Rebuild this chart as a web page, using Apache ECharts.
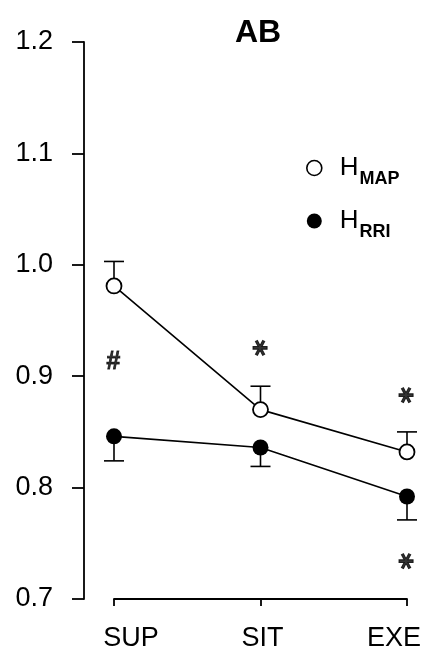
<!DOCTYPE html>
<html>
<head>
<meta charset="utf-8">
<script src="https://cdn.jsdelivr.net/npm/echarts@6/dist/echarts.min.js"></script>
<style>
  html, body { margin: 0; padding: 0; background: #fff; }
  #chart { width: 422px; height: 650px; }
</style>
</head>
<body>
<div id="chart"></div>
<script>
// conditions on the x axis
const categories = ['SUP', 'SIT', 'EXE'];

// H_MAP (open circles), error bars go up
const hMap = [0.981, 0.870, 0.832];
const hMapSE = [0.022, 0.021, 0.018];

// H_RRI (filled circles), error bars go down
const hRri = [0.846, 0.836, 0.792];
const hRriSE = [0.022, 0.017, 0.021];

// y ticks
const yMin = 0.7;
const yMax = 1.2;
const yStep = 0.1;

// significance marks
const markX = [0, 1, 2, 2];
const markY = [0.9145, 0.9255, 0.883, 0.734];
const markText = ['#', '*', '*', '*'];

const FONT = '"Liberation Sans", Arial, sans-serif';

function errorSeries(vals, se, dir) {
    return {
        type: 'custom',
        xAxisIndex: 1,
        yAxisIndex: 1,
        z: 1,
        silent: true,
        data: vals.map((v, i) => [i, v, se[i]]),
        renderItem: function (params, api) {
            const p0 = api.coord([api.value(0), api.value(1)]);
            const p1 = api.coord([api.value(0), api.value(1) + dir * api.value(2)]);
            const st = { stroke: '#000', lineWidth: 1.6 };
            return {
                type: 'group',
                children: [
                    { type: 'line', shape: { x1: p0[0], y1: p0[1], x2: p1[0], y2: p1[1] }, style: st },
                    { type: 'line', shape: { x1: p1[0] - 10, y1: p1[1], x2: p1[0] + 10, y2: p1[1] }, style: st }
                ]
            };
        }
    };
}

const legendRich = {
    h: { fontSize: 26, fontFamily: FONT, color: '#000', lineHeight: 26, verticalAlign: 'top', padding: [0, 0, 0, 13] },
    s: { fontSize: 18, fontFamily: FONT, fontWeight: 'bold', color: '#000', lineHeight: 18, verticalAlign: 'top', padding: [15, 0, 0, 1] }
};

const xRich = {
    l: { fontFamily: FONT, fontSize: 27, color: '#000', padding: [0, 0, 0, 34] },
    c: { fontFamily: FONT, fontSize: 27, color: '#000', padding: [0, 0, 0, 4] },
    r: { fontFamily: FONT, fontSize: 27, color: '#000', padding: [0, 26, 0, 0] }
};

const chart = echarts.init(document.getElementById('chart'), null, { renderer: 'canvas' });

chart.setOption({
    animation: false,
    backgroundColor: '#fff',
    title: {
        text: 'AB',
        left: 258,
        top: 17,
        padding: 0,
        textAlign: 'center',
        textStyle: { fontFamily: FONT, fontSize: 32, fontWeight: 'bold', color: '#000' }
    },
    legend: {
        orient: 'vertical',
        left: 306,
        top: 155,
        padding: 0,
        itemGap: 20,
        itemWidth: 15,
        itemHeight: 15,
        selectedMode: false,
        data: [
            { name: 'HMAP', icon: 'circle', itemStyle: { color: '#fff', borderColor: '#000', borderWidth: 1.6 } },
            { name: 'HRRI', icon: 'circle', itemStyle: { color: '#000', borderColor: '#000', borderWidth: 0 } }
        ],
        formatter: function (name) {
            return '{h|H}{s|' + name.slice(1) + '}';
        },
        textStyle: { rich: legendRich }
    },
    grid: [
        { left: 84, top: 42, bottom: 51, right: 15, outerBoundsMode: 'none' },
        { left: 114, top: 42, bottom: 51, right: 15, outerBoundsMode: 'none' }
    ],
    xAxis: [
        { gridIndex: 0, type: 'value', show: false, min: 0, max: 1 },
        {
            gridIndex: 1,
            type: 'category',
            data: categories,
            boundaryGap: false,
            axisLine: { lineStyle: { color: '#000', width: 1.8 } },
            axisTick: { alignWithLabel: true, length: 7, lineStyle: { color: '#000', width: 1.8 } },
            axisLabel: {
                margin: 26, color: '#000', fontFamily: FONT, fontSize: 27,
                formatter: (v, i) => '{' + ['l', 'c', 'r'][i] + '|' + v + '}',
                rich: xRich
            },
            splitLine: { show: false }
        }
    ],
    yAxis: [
        {
            gridIndex: 0,
            type: 'value',
            min: yMin,
            max: yMax,
            interval: yStep,
            axisLine: { show: true, lineStyle: { color: '#000', width: 1.8 } },
            axisTick: { show: true, length: 12, lineStyle: { color: '#000', width: 1.8 } },
            axisLabel: {
                margin: 31, color: '#000', fontFamily: FONT, fontSize: 27,
                formatter: v => v.toFixed(1)
            },
            splitLine: { show: false }
        },
        { gridIndex: 1, type: 'value', min: yMin, max: yMax, show: false }
    ],
    series: [
        errorSeries(hMap, hMapSE, 1),
        errorSeries(hRri, hRriSE, -1),
        {
            name: 'HMAP',
            type: 'line',
            xAxisIndex: 1,
            yAxisIndex: 1,
            z: 3,
            data: hMap,
            symbol: 'circle',
            symbolSize: 15,
            lineStyle: { color: '#000', width: 1.6 },
            itemStyle: { color: '#fff', borderColor: '#000', borderWidth: 1.8 }
        },
        {
            name: 'HRRI',
            type: 'line',
            xAxisIndex: 1,
            yAxisIndex: 1,
            z: 3,
            data: hRri,
            symbol: 'circle',
            symbolSize: 16,
            lineStyle: { color: '#000', width: 1.6 },
            itemStyle: { color: '#000', borderColor: '#000', borderWidth: 0 }
        },
        {
            type: 'scatter',
            xAxisIndex: 1,
            yAxisIndex: 1,
            silent: true,
            z: 4,
            symbolSize: 2,
            itemStyle: { color: 'rgba(0,0,0,0)' },
            // nudge glyphs so their ink centre sits on the point (stars are rotated, so dy moves them sideways)
            labelLayout: function (p) {
                const star = markText[p.dataIndex] === '*';
                return { hideOverlap: false, dx: star ? 0 : -1, dy: star ? 6 : 2 };
            },
            data: markX.map((x, i) => ({
                name: markText[i],
                value: [x, markY[i]],
                label: markText[i] === '#'
                    ? { fontFamily: FONT, fontSize: 25, fontWeight: 'bold', fontStyle: 'italic', offset: [0, 3], textBorderColor: '#000', textBorderWidth: 0.8 }
                    : { fontFamily: '"DejaVu Sans", sans-serif', fontSize: 31, fontWeight: 'bold', rotate: 90, offset: [13, 0], textBorderColor: '#000', textBorderWidth: 1 }
            })),
            label: {
                show: true,
                position: 'inside',
                formatter: '{b}',
                color: '#000'
            }
        }
    ]
});
</script>
</body>
</html>
